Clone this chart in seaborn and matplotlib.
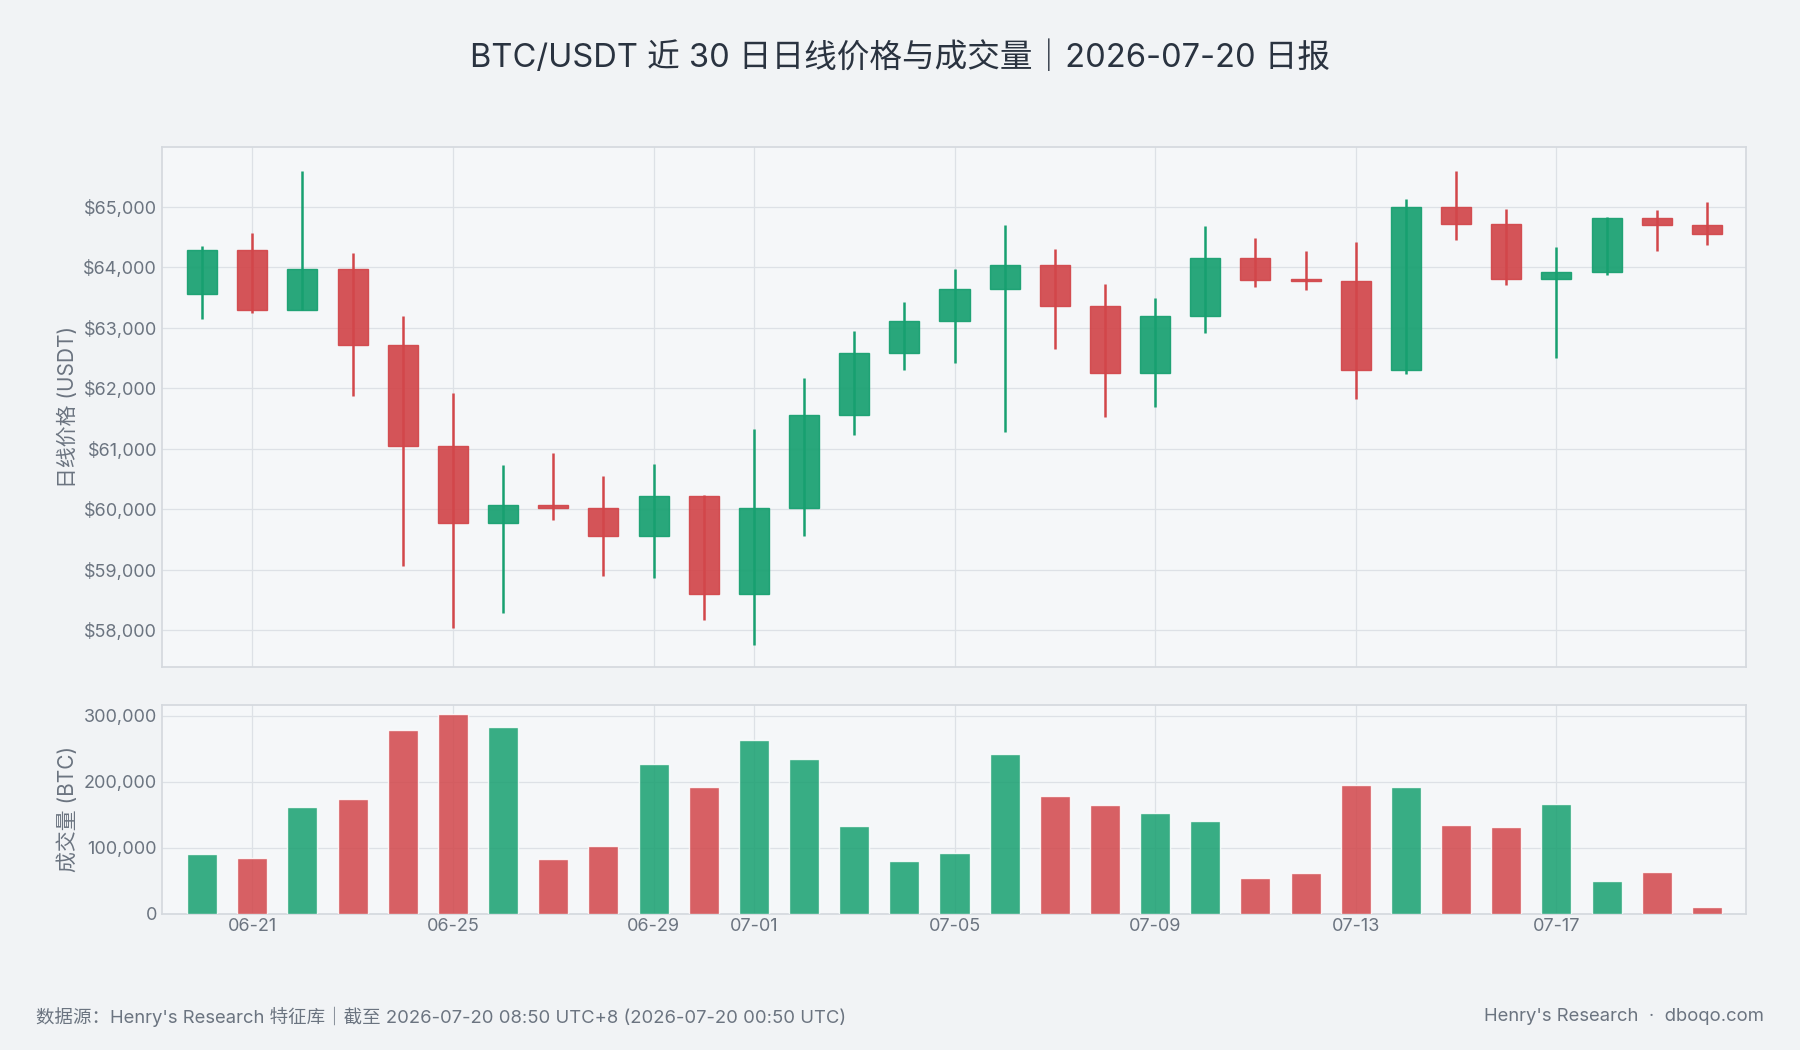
import numpy as np
import pandas as pd
import matplotlib
matplotlib.use("Agg")
import matplotlib.pyplot as plt
import seaborn as sns

dates = ["06-20","06-21","06-22","06-23","06-24","06-25","06-26","06-27","06-28","06-29","06-30",
         "07-01","07-02","07-03","07-04","07-05","07-06","07-07","07-08","07-09","07-10",
         "07-11","07-12","07-13","07-14","07-15","07-16","07-17","07-18","07-19","07-20"]
opens  = [63558,64279,63293,63976,62705,61035,59764,60068,60011,59556,60220,58588,60011,61547,62572,63103,
          63634,64033,63350,62249,63198,64146,63805,63767,62306,65000,64715,63805,63919,64810,64696]
closes = [64279,63293,63976,62705,61035,59764,60068,60011,59556,60220,58588,60011,61547,62572,63103,63634,
          64033,63350,62249,63198,64146,63786,63767,62306,65000,64715,63805,63919,64810,64696,64545]
highs  = [64355,64564,65588,64241,63198,61927,60732,60922,60542,60751,60239,61320,62173,62951,63425,63976,
          64696,64298,63729,63482,64678,64488,64260,64412,65133,65588,64962,64336,64829,64943,65076]
lows   = [63141,63236,63293,61870,59062,58038,58285,59821,58892,58854,58171,57753,59556,61225,62306,62420,
          61282,62648,61528,61680,62913,63672,63615,61813,62230,64450,63710,62496,63862,64260,64374]
volumes = [91000,84000,162000,173000,279000,302000,283000,82000,103000,227000,192000,263000,235000,133000,
           80000,92000,242000,178000,164000,152000,140000,54000,61000,195000,192000,134000,131000,166000,
           49000,63000,10000]
tick_dates = ["06-21","06-25","06-29","07-01","07-05","07-09","07-13","07-17"]

GREEN = "#17a070"
RED = "#d2464a"

sns.set_theme(style="whitegrid")
plt.rcParams['font.family'] = ['Inter', 'Noto Sans CJK SC', 'DejaVu Sans']

df = pd.DataFrame({"date": dates, "open": opens, "close": closes, "high": highs, "low": lows, "volume": volumes})
df["x"] = np.arange(len(df))
df["dir"] = np.where(df["close"] >= df["open"], "up", "down")

fig = plt.figure(figsize=(18, 10.5), dpi=100, facecolor="#f1f3f5")
ax = fig.add_axes([0.09, 0.365, 0.88, 0.495])
axv = fig.add_axes([0.09, 0.130, 0.88, 0.199], sharex=ax)

for a in (ax, axv):
    a.set_facecolor("#f5f7f9")
    a.grid(True, color="#dde1e6", linewidth=0.9)
    for s in a.spines.values():
        s.set_color("#d5d9de")
    a.tick_params(colors="#6b7480", labelsize=13, length=0)

for _, r in df.iterrows():
    c = GREEN if r["dir"] == "up" else RED
    ax.vlines(r["x"], r["low"], r["high"], color=c, linewidth=1.8, zorder=2)
    lo, hi = min(r["open"], r["close"]), max(r["open"], r["close"])
    ax.bar(r["x"], max(hi - lo, 40), bottom=lo, width=0.6, color=c, alpha=0.92,
           edgecolor=c, linewidth=1, zorder=3)

ax.set_ylim(57393, 65986)
ax.set_xlim(-0.8, 30.78)
ax.yaxis.set_major_formatter(matplotlib.ticker.FuncFormatter(lambda v, p: f"${v:,.0f}"))
ax.set_yticks(np.arange(58000, 65001, 1000))
ax.set_ylabel("日线价格 (USDT)", color="#6b7480", fontsize=15)
ax.tick_params(axis="x", labelbottom=False, length=5, width=1.2, color="#6b7480", direction="out")

palette = {"up": GREEN, "down": RED}
sns.barplot(data=df, x="x", y="volume", hue="dir", palette=palette, dodge=False, native_scale=True,
            width=0.6, alpha=0.85, saturation=1, legend=False, ax=axv, zorder=3)
axv.set_ylim(0, 317000)
axv.set_yticks([0, 100000, 200000, 300000])
axv.yaxis.set_major_formatter(matplotlib.ticker.FuncFormatter(lambda v, p: f"{v:,.0f}"))
axv.set_ylabel("成交量 (BTC)", color="#6b7480", fontsize=15)
axv.set_xlabel("")
tick_pos = [dates.index(d) for d in tick_dates]
axv.set_xticks(tick_pos)
axv.set_xticklabels(tick_dates, fontsize=13)
axv.set_xlim(-0.8, 30.78)

fig.text(0.5, 0.945, "BTC/USDT 近 30 日日线价格与成交量｜2026-07-20 日报", ha="center", va="center",
         fontsize=23.5, color="#2a3340")
fig.text(0.02, 0.032, "数据源：Henry's Research 特征库｜截至 2026-07-20 08:50 UTC+8 (2026-07-20 00:50 UTC)",
         ha="left", va="center", fontsize=13.3, color="#6b7480")
fig.text(0.98, 0.032, "Henry's Research  ·  dboqo.com", ha="right", va="center", fontsize=13.3, color="#6b7480")

fig.savefig("out.png", dpi=100, facecolor=fig.get_facecolor())
